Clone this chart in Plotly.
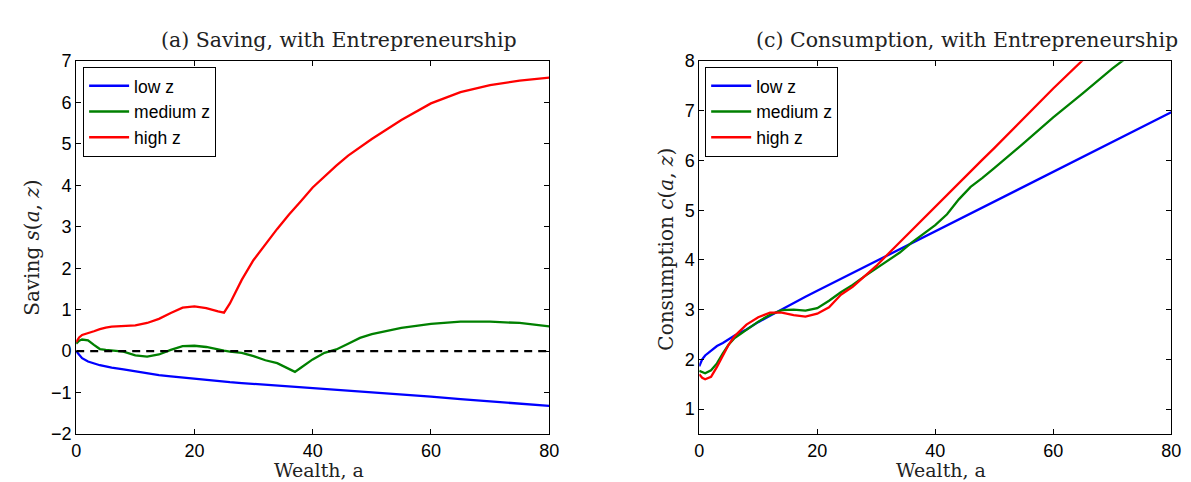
import plotly.graph_objects as go

# ---------------- data ----------------
wealth = [0, 0.5, 1, 2, 3, 4, 5, 6, 8, 10, 12, 14, 16, 18, 20, 22, 24, 25, 26, 28,
          30, 32, 34, 36, 37, 38, 40, 42, 44, 46, 48, 50, 55, 60, 65, 70, 75, 80]

saving_low = [0.0, -0.10, -0.17, -0.25, -0.30, -0.34, -0.37, -0.40, -0.44, -0.49, -0.54,
              -0.58, -0.61, -0.64, -0.67, -0.70, -0.72, -0.73, -0.75, -0.77, -0.79, -0.82,
              -0.84, -0.86, -0.87, -0.88, -0.90, -0.92, -0.94, -0.96, -0.98, -1.00, -1.05,
              -1.10, -1.16, -1.21, -1.27, -1.32]
saving_med = [0.18, 0.25, 0.28, 0.26, 0.15, 0.05, 0.03, 0.02, -0.01, -0.10, -0.13, -0.08,
              0.03, 0.12, 0.13, 0.10, 0.03, 0.01, -0.01, -0.04, -0.12, -0.22, -0.29, -0.42,
              -0.50, -0.40, -0.20, -0.04, 0.04, 0.18, 0.32, 0.41, 0.56, 0.66, 0.71, 0.71,
              0.68, 0.60]
saving_high = [0.22, 0.33, 0.39, 0.43, 0.48, 0.53, 0.57, 0.59, 0.60, 0.62, 0.68, 0.78, 0.92,
               1.05, 1.08, 1.04, 0.96, 0.93, 1.15, 1.72, 2.20, 2.58, 2.95, 3.30, 3.47, 3.62,
               3.95, 4.22, 4.48, 4.72, 4.93, 5.12, 5.58, 5.98, 6.25, 6.42, 6.53, 6.60]

cons_low = [1.86, 2.00, 2.08, 2.18, 2.27, 2.33, 2.40, 2.48, 2.60, 2.75, 2.88, 3.01, 3.13,
            3.26, 3.38, 3.50, 3.62, 3.68, 3.74, 3.86, 3.98, 4.10, 4.22, 4.34, 4.40, 4.46,
            4.58, 4.70, 4.82, 4.93, 5.05, 5.17, 5.47, 5.77, 6.07, 6.37, 6.67, 6.97]
cons_med = [1.77, 1.74, 1.72, 1.78, 1.92, 2.12, 2.30, 2.43, 2.60, 2.76, 2.90, 2.99, 3.00,
            2.98, 3.03, 3.18, 3.35, 3.42, 3.50, 3.67, 3.83, 4.00, 4.15, 4.35, 4.44, 4.52,
            4.70, 4.92, 5.22, 5.47, 5.65, 5.85, 6.35, 6.87, 7.35, 7.85, 8.30, 8.70]
cons_high = [1.70, 1.63, 1.60, 1.65, 1.85, 2.08, 2.30, 2.47, 2.70, 2.85, 2.94, 2.94, 2.89,
             2.86, 2.92, 3.05, 3.30, 3.38, 3.46, 3.67, 3.88, 4.12, 4.36, 4.60, 4.72, 4.84,
             5.08, 5.32, 5.56, 5.78, 6.02, 6.25, 6.85, 7.45, 8.02, 8.60, 9.20, 9.80]

zero_x = [0, 80]
zero_y = [0, 0]

series_names = ["low z", "medium z", "high z"]
series_colors = ["#0000ff", "#008000", "#ff0000"]

x_ticks = [0, 20, 40, 60, 80]
saving_ticks = [-2, -1, 0, 1, 2, 3, 4, 5, 6, 7]
cons_ticks = [1, 2, 3, 4, 5, 6, 7, 8]

# ---------------- figure ----------------
W, H = 1191, 482
fig = go.Figure()

for name, col, ys in zip(series_names, series_colors, [saving_low, saving_med, saving_high]):
    fig.add_trace(go.Scatter(x=wealth, y=ys, mode="lines", name=name,
                             line=dict(color=col, width=2.3),
                             xaxis="x", yaxis="y", legend="legend"))
fig.add_trace(go.Scatter(x=zero_x, y=zero_y, mode="lines", showlegend=False,
                         line=dict(color="black", width=2.3, dash="8px,6px"),
                         xaxis="x", yaxis="y"))
for name, col, ys in zip(series_names, series_colors, [cons_low, cons_med, cons_high]):
    fig.add_trace(go.Scatter(x=wealth, y=ys, mode="lines", name=name,
                             line=dict(color=col, width=2.3),
                             xaxis="x2", yaxis="y2", legend="legend2"))

def px_x(p):
    return p / W

def px_y(p):
    return (H - p) / H

tick_font = dict(family="Liberation Sans, Arial, sans-serif", size=18, color="black")
axis_common = dict(showline=True, linecolor="black", linewidth=1, mirror="ticks",
                   ticks="inside", ticklen=5, tickcolor="black", showgrid=False,
                   zeroline=False, tickfont=tick_font)

legend_font = dict(family="Liberation Sans, Arial, sans-serif", size=17.5, color="black")
fig.update_layout(
    width=W, height=H, autosize=False,
    margin=dict(l=0, r=0, t=0, b=0),
    paper_bgcolor="white", plot_bgcolor="white",
    xaxis=dict(domain=[px_x(64), px_x(543)], range=[0, 80], tickvals=x_ticks,
               anchor="y", **axis_common),
    yaxis=dict(domain=[px_y(434), px_y(45)], range=[-2, 7], tickvals=saving_ticks,
               anchor="x", **axis_common),
    xaxis2=dict(domain=[px_x(695), px_x(1173)], range=[0, 80], tickvals=x_ticks,
                anchor="y2", **axis_common),
    yaxis2=dict(domain=[px_y(434), px_y(45)], range=[0.5, 8], tickvals=cons_ticks,
                anchor="x2", **axis_common),
    legend=dict(x=px_x(71), y=px_y(51), xanchor="left", yanchor="top",
                bordercolor="black", borderwidth=1, bgcolor="white",
                font=legend_font, itemwidth=40, tracegroupgap=0),
    legend2=dict(x=px_x(701), y=px_y(51), xanchor="left", yanchor="top",
                 bordercolor="black", borderwidth=1, bgcolor="white",
                 font=legend_font, itemwidth=40, tracegroupgap=0),
)

serif = "DejaVu Serif, Liberation Serif, serif"
annots = [
    dict(text="(a) Saving, with Entrepreneurship", x=330, y=23, size=20.5, angle=0),
    dict(text="(c) Consumption, with Entrepreneurship", x=966, y=23, size=20.5, angle=0),
    dict(text="Wealth, a", x=310, y=472, size=19, angle=0),
    dict(text="Wealth, a", x=940, y=472, size=19, angle=0),
    dict(text="Saving <i>s</i>(<i>a</i>, <i>z</i>)", x=19, y=240, size=20, angle=-90),
    dict(text="Consumption <i>c</i>(<i>a</i>, <i>z</i>)", x=661, y=241, size=20, angle=-90),
]
for a in annots:
    fig.add_annotation(text=a["text"], x=px_x(a["x"]), y=px_y(a["y"]), xref="paper", yref="paper",
                       xanchor="center", yanchor="middle", showarrow=False,
                       textangle=a["angle"],
                       font=dict(family=serif, size=a["size"], color="#222222"))

fig.write_html("out.html")
